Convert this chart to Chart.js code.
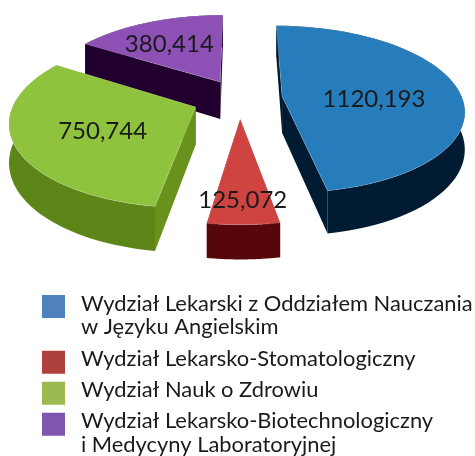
<!DOCTYPE html>
<html>
<head>
<meta charset="utf-8">
<style>
    html, body { margin: 0; padding: 0; background: #fff; }
    canvas { display: block; }
</style>
<script src="https://cdn.jsdelivr.net/npm/chart.js@4"></script>
</head>
<body>
<canvas id="chart" width="475" height="456"></canvas>
<script>
// Dane
const categories = [
    ['Wydział Lekarski z Oddziałem Nauczania', 'w Języku Angielskim'],
    'Wydział Lekarsko-Stomatologiczny',
    'Wydział Nauk o Zdrowiu',
    ['Wydział Lekarsko-Biotechnologiczny', 'i Medycyny Laboratoryjnej']
];
const values = [1120.193, 125.072, 750.744, 380.414];

// Kolory
const legendColors = ['#4f81bd', '#ae403e', '#9cba4f', '#8055b0'];
const topColors = ['#277cbb', '#cf4440', '#8fc33e', '#8d50b5'];
const rimColors = ['#011b33', '#57060b', '#5e8518', '#21002f'];
const cutColors = ['#011b33', '#57060b', '#68921c', '#21002f'];

// Wysuniecie wycinkow (px) i polozenie etykiet
const explode = [48, 50, 53, 46];
const labelFrac = [0.52, 0.8, 0.53, 0.68];
const labelNudge = [7, 0, 5, 4];
const wallHeight = [36.5, 28, 37, 38];

// Rzut perspektywiczny plaszczyzny kola na ekran
const view = { x0: 239.5, y0: 98, k: 180, t: 0.455, p: 0.155 };

function project(u, v, h) {
    const w = 1 - view.p * v;
    return {
        x: view.x0 + view.k * u / w,
        y: view.y0 + (view.k * view.t * v + h) / w
    };
}

function fillPoly(ctx, points, color) {
    ctx.fillStyle = color;
    ctx.beginPath();
    points.forEach((c, n) => (n ? ctx.lineTo(c.x, c.y) : ctx.moveTo(c.x, c.y)));
    ctx.closePath();
    ctx.fill();
}

const pie3d = {
    id: 'pie3d',
    afterLayout(chart) {
        // legenda pod wykresem
        chart.legend.left = 34;
        chart.legend.top = 284;
        chart.legend.bottom = 1000;
        chart.legend.adjustHitBoxes();
    },
    beforeDatasetDraw(chart) {
        const ctx = chart.ctx;
        const arcs = chart.getDatasetMeta(0).data.map((arc, i) => {
            const p = arc.getProps(['startAngle', 'endAngle', 'outerRadius'], true);
            const mid = (p.startAngle + p.endAngle) / 2;
            const e = arc.options.offset / p.outerRadius;
            return { i, p, mid, ou: Math.cos(mid) * e, ov: Math.sin(mid) * e };
        });
        arcs.sort((a, b) => a.ov - b.ov);

        arcs.forEach((a) => {
            const rim = [];
            const steps = 60;
            for (let s = 0; s <= steps; s++) {
                const ang = a.p.startAngle + (a.p.endAngle - a.p.startAngle) * s / steps;
                rim.push([a.ou + Math.cos(ang), a.ov + Math.sin(ang)]);
            }
            const h = wallHeight[a.i];
            const apex = [a.ou, a.ov];
            const first = rim[0];
            const last = rim[steps];
            const at = (pt, height) => project(pt[0], pt[1], height);

            // sciany boczne
            fillPoly(ctx, [at(apex, 0), at(first, 0), at(first, h), at(apex, h)], cutColors[a.i]);
            fillPoly(ctx, [at(apex, 0), at(last, 0), at(last, h), at(apex, h)], cutColors[a.i]);
            fillPoly(ctx, rim.map((pt) => at(pt, 0)).concat(rim.slice().reverse().map((pt) => at(pt, h))), rimColors[a.i]);

            // wierzch
            const top = [at(apex, 0)].concat(rim.map((pt) => at(pt, 0)));
            fillPoly(ctx, top, topColors[a.i]);
            ctx.strokeStyle = 'rgba(255,255,255,0.25)';
            ctx.lineWidth = 0.7;
            ctx.stroke();
        });

        // etykiety wartosci
        ctx.fillStyle = '#1a1a1a';
        ctx.font = '24px Lato';
        ctx.textAlign = 'center';
        ctx.textBaseline = 'middle';
        arcs.forEach((a) => {
            const f = labelFrac[a.i];
            const c = project(a.ou + Math.cos(a.mid) * f, a.ov + Math.sin(a.mid) * f, 0);
            ctx.fillText(values[a.i].toFixed(3).replace('.', ','), c.x, c.y + labelNudge[a.i]);
        });
        return false;
    },
    afterDraw(chart) {
        // kwadraty legendy: troche nizej niz tekst, jak w oryginale
        const legend = chart.legend;
        const ctx = chart.ctx;
        legend.legendHitBoxes.forEach((hit, i) => {
            ctx.fillStyle = legendColors[i];
            ctx.fillRect(legend.left + 8, hit.top + 3, 23, 23);
        });
    }
};

new Chart(document.getElementById('chart'), {
    type: 'pie',
    data: {
        labels: categories,
        datasets: [
            {
                data: values,
                backgroundColor: legendColors,
                borderWidth: 0,
                offset: explode
            }
        ]
    },
    options: {
        responsive: false,
        animation: false,
        plugins: {
            tooltip: { enabled: false },
            legend: {
                position: 'chartArea',
                align: 'start',
                labels: {
                    boxWidth: 28,
                    boxHeight: 23,
                    padding: 8,
                    color: '#1a1a1a',
                    font: { family: 'Lato', size: 21.9, lineHeight: 1.09 },
                    generateLabels(chart) {
                        const items = Chart.overrides.pie.plugins.legend.labels.generateLabels(chart);
                        items.forEach((item) => {
                            item.fillStyle = 'transparent';
                        });
                        return items;
                    }
                }
            }
        }
    },
    plugins: [pie3d]
});
</script>
</body>
</html>
